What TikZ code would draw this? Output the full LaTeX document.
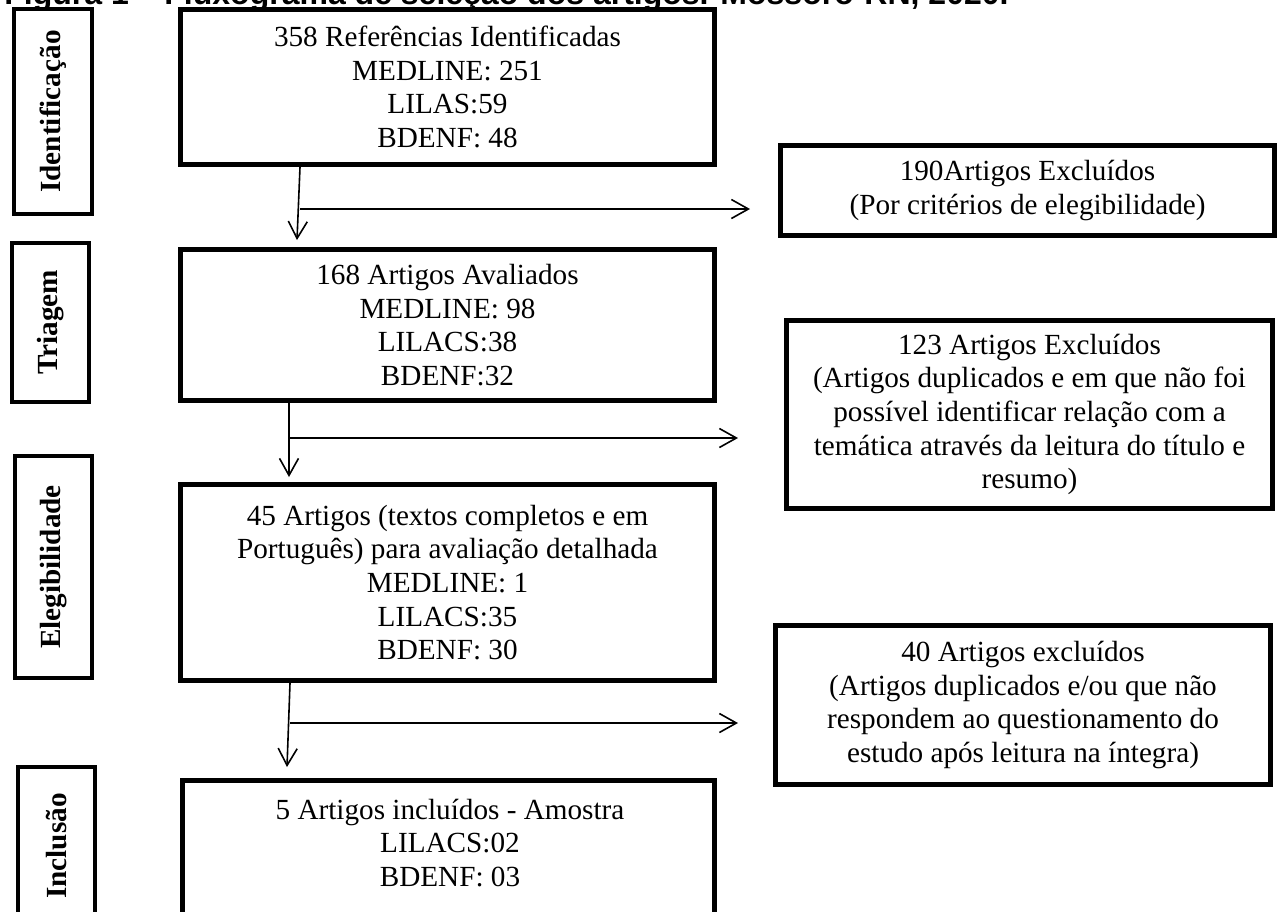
\documentclass[tikz,border=0pt]{standalone}
\usepackage{fontspec}
\setmainfont{Liberation Serif}
\newfontfamily\titlefont{Liberation Sans}
\usetikzlibrary{arrows.meta}
\begin{document}
\begin{tikzpicture}[x=0.5pt,y=-0.5pt,
  txt/.style={font=\fontsize{14.6}{16.8}\selectfont},
  boldtxt/.style={font=\fontsize{14.6}{16.8}\selectfont\bfseries},
  box/.style={draw=black, line width=2.3pt, inner sep=0pt, align=center, txt},
  lab/.style={draw=black, line width=2.1pt, inner sep=0pt, rotate=90, boldtxt},
  labtext/.style={rotate=90, inner sep=0pt, boldtxt},
  flow/.style={line width=0.8pt, -{Straight Barb[length=8.5pt,width=9.5pt,line width=0.8pt]}},
  link/.style={line width=0.8pt}]
\useasboundingbox (0,0) rectangle (1283,911);
\clip (0,0) rectangle (1283,911);

% title (cut off at the top of the picture)
\node[anchor=base west, inner sep=0pt, font={\titlefont\bfseries\fontsize{16}{18}\selectfont}] (title) at (4,4)
  {Figura 1 – Fluxograma de seleção dos artigos. Mossoró-RN, 2020.};

% stage labels
\node[lab, minimum width=102.25pt, minimum height=38.75pt] (l1) at (53,111.5) {Identificação};
\node[lab, minimum width=79.25pt, minimum height=38.25pt] (l2) at (50.5,322.5) {Triagem};
\node[lab, minimum width=110.75pt, minimum height=38.25pt] (l3) at (53.5,567) {Elegibilidade};
\node[lab, minimum width=95.25pt, minimum height=38.25pt] (l4) at (56.5,862.5) {};
\node[labtext] (l4t) at (56.5,846) {Inclusão};

% main flow boxes
\node[box, minimum width=267.25pt, minimum height=77.75pt] (b1) at (447.5,87)
  {358 Referências Identificadas\\MEDLINE: 251\\LILAS:59\\BDENF: 48};
\node[box, minimum width=267.25pt, minimum height=75.75pt] (b2) at (447.5,325)
  {168 Artigos Avaliados\\MEDLINE: 98\\LILACS:38\\BDENF:32};
\node[box, minimum width=267.25pt, minimum height=98.25pt] (b3) at (447.5,582.5)
  {45 Artigos (textos completos e em\\Português) para avaliação detalhada\\MEDLINE: 1\\LILACS:35\\BDENF: 30};
\node[box, minimum width=266.25pt, minimum height=88.75pt] (b4) at (448.5,869) {};
\node[txt, align=center, inner sep=0pt] (b4t) at (450,843)
  {5 Artigos incluídos - Amostra\\LILACS:02\\BDENF: 03};

% excluded boxes
\node[box, minimum width=247.25pt, minimum height=45.25pt] (r1) at (1027.5,190.5)
  {190Artigos Excluídos\\(Por critérios de elegibilidade)};
\node[box, minimum width=243.25pt, minimum height=94.25pt] (r2) at (1029.5,414.5)
  {123 Artigos Excluídos\\(Artigos duplicados e em que não foi\\possível identificar relação com a\\temática através da leitura do título e\\resumo)};
\node[box, minimum width=247.75pt, minimum height=79.75pt] (r3) at (1023,705)
  {40 Artigos excluídos\\(Artigos duplicados e/ou que não\\respondem ao questionamento do\\estudo após leitura na íntegra)};

% connector points
\coordinate (s1) at (300,165);
\coordinate (e1) at (297,240);
\coordinate (j1) at (300,209);
\coordinate (t1) at (750,209);
\coordinate (s2) at (289,401);
\coordinate (e2) at (289,477);
\coordinate (j2) at (289,438);
\coordinate (t2) at (738,438);
\coordinate (s3) at (290,681);
\coordinate (e3) at (287,767);
\coordinate (j3) at (290,723);
\coordinate (t3) at (738,723);

\draw[flow] (b1.south -| s1) -- (e1);
\draw[flow] (j1) -- (t1);
\draw[flow] (b2.south -| s2) -- (e2);
\draw[flow] (j2) -- (t2);
\draw[flow] (b3.south -| s3) -- (e3);
\draw[flow] (j3) -- (t3);
\end{tikzpicture}
\end{document}
